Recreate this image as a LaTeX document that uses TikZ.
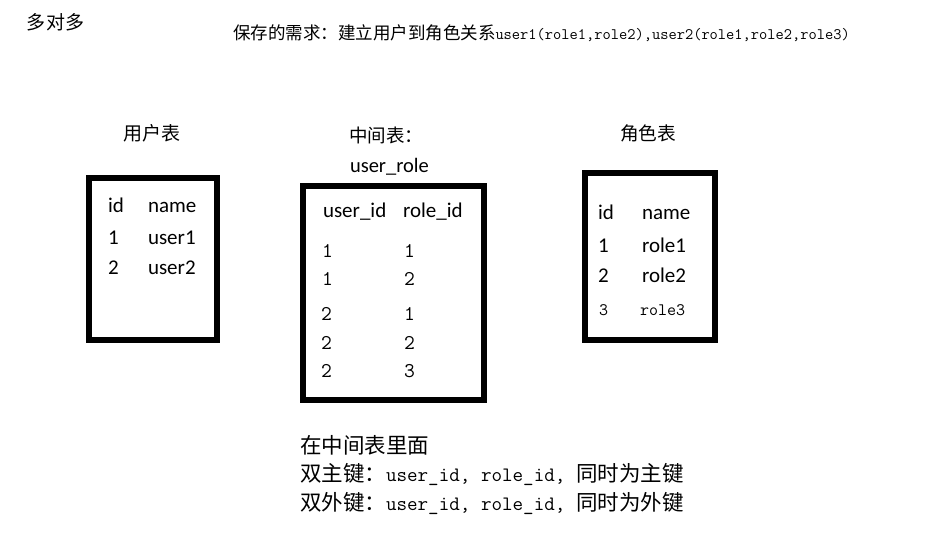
\documentclass[tikz,border=0pt]{standalone}
\usepackage{fontspec}
\setmainfont{Carlito}
\newfontfamily\cjk{Noto Sans CJK SC}
\newfontfamily\monof{Latin Modern Mono}
\newfontfamily\carl{Carlito}
\begin{document}
\begin{tikzpicture}[x=1pt,y=-1pt,
  txt/.style={inner sep=0pt,outer sep=0pt,anchor=west,text height=5.5pt,text depth=4pt,yshift=-6.5pt},
  tbl/.style={draw=black,line width=6pt,inner sep=0pt,fill=none},
  cn/.style={txt,font=\cjk\fontsize{#1}{#1}\selectfont},
  la/.style={txt,font=\carl\fontsize{21}{21}\selectfont},
  mo/.style={txt,font=\monof\fontsize{#1}{#1}\selectfont}]
\useasboundingbox (0,0) rectangle (933,545);
\fill[white] (0,0) rectangle (933,545);

% heading
\node[cn=19] (hd) at (27,22) {多对多};
\node[txt] (req) at (233,32) {{\cjk\fontsize{17.5}{17.5}\selectfont 保存的需求：建立用户到角色关系}{\monof\fontsize{16}{16}\selectfont user1(role1,role2),user2(role1,role2,role3)}};

% tables (frames)
\node[tbl,minimum width=128pt,minimum height=162pt] (ubox) at (153,259) {};
\node[tbl,minimum width=181pt,minimum height=214pt] (mbox) at (393.5,293) {};
\node[tbl,minimum width=130pt,minimum height=167pt] (rbox) at (650,256.5) {};

% titles
\node[cn=19] (ut) at (123,133) {用户表};
\node[cn=18.5] (mt) at (349,135) {中间表：};
\node[txt,font=\carl\fontsize{20.5}{20.5}\selectfont] (mt2) at (350,165) {user\_role};
\node[cn=18.7] (rt) at (620,133) {角色表};

% user table
\node[la] (u11) at (108,205) {id};
\node[la] (u12) at (148,205) {name};
\node[la] (u21) at (108,237) {1};
\node[la] (u22) at (148,237) {user1};
\node[la] (u31) at (108,267) {2};
\node[la] (u32) at (148,267) {user2};

% middle table
\node[la] (m11) at (323,210) {user\_id};
\node[la] (m12) at (403,210) {role\_id};
\node[mo=21] (m21) at (322,250) {1};
\node[mo=21] (m22) at (404,250) {1};
\node[mo=21] (m31) at (322,278) {1};
\node[mo=21] (m32) at (404,278) {2};
\node[mo=21] (m41) at (321,313) {2};
\node[mo=21] (m42) at (404,313) {1};
\node[mo=21] (m51) at (321,342) {2};
\node[mo=21] (m52) at (404,342) {2};
\node[mo=21] (m61) at (321,370) {2};
\node[mo=21] (m62) at (404,370) {3};

% role table
\node[la] (r11) at (598,212) {id};
\node[la] (r12) at (642,212) {name};
\node[la] (r21) at (598,245) {1};
\node[la] (r22) at (642,245) {role1};
\node[la] (r31) at (598,275) {2};
\node[la] (r32) at (642,275) {role2};
\node[mo=17.5] (r41) at (599,308) {3};
\node[mo=17.5] (r42) at (640,308) {role3};

% notes
\node[cn=21.5] (n1) at (300,446.5) {在中间表里面};
\node[txt] (n2) at (300,474.5) {{\cjk\fontsize{21.5}{21.5}\selectfont 双主键：}{\monof\fontsize{20.5}{20.5}\selectfont user\_id, role\_id, }{\cjk\fontsize{21.5}{21.5}\selectfont 同时为主键}};
\node[txt] (n3) at (300,503.5) {{\cjk\fontsize{21.5}{21.5}\selectfont 双外键：}{\monof\fontsize{20.5}{20.5}\selectfont user\_id, role\_id, }{\cjk\fontsize{21.5}{21.5}\selectfont 同时为外键}};
\end{tikzpicture}
\end{document}
